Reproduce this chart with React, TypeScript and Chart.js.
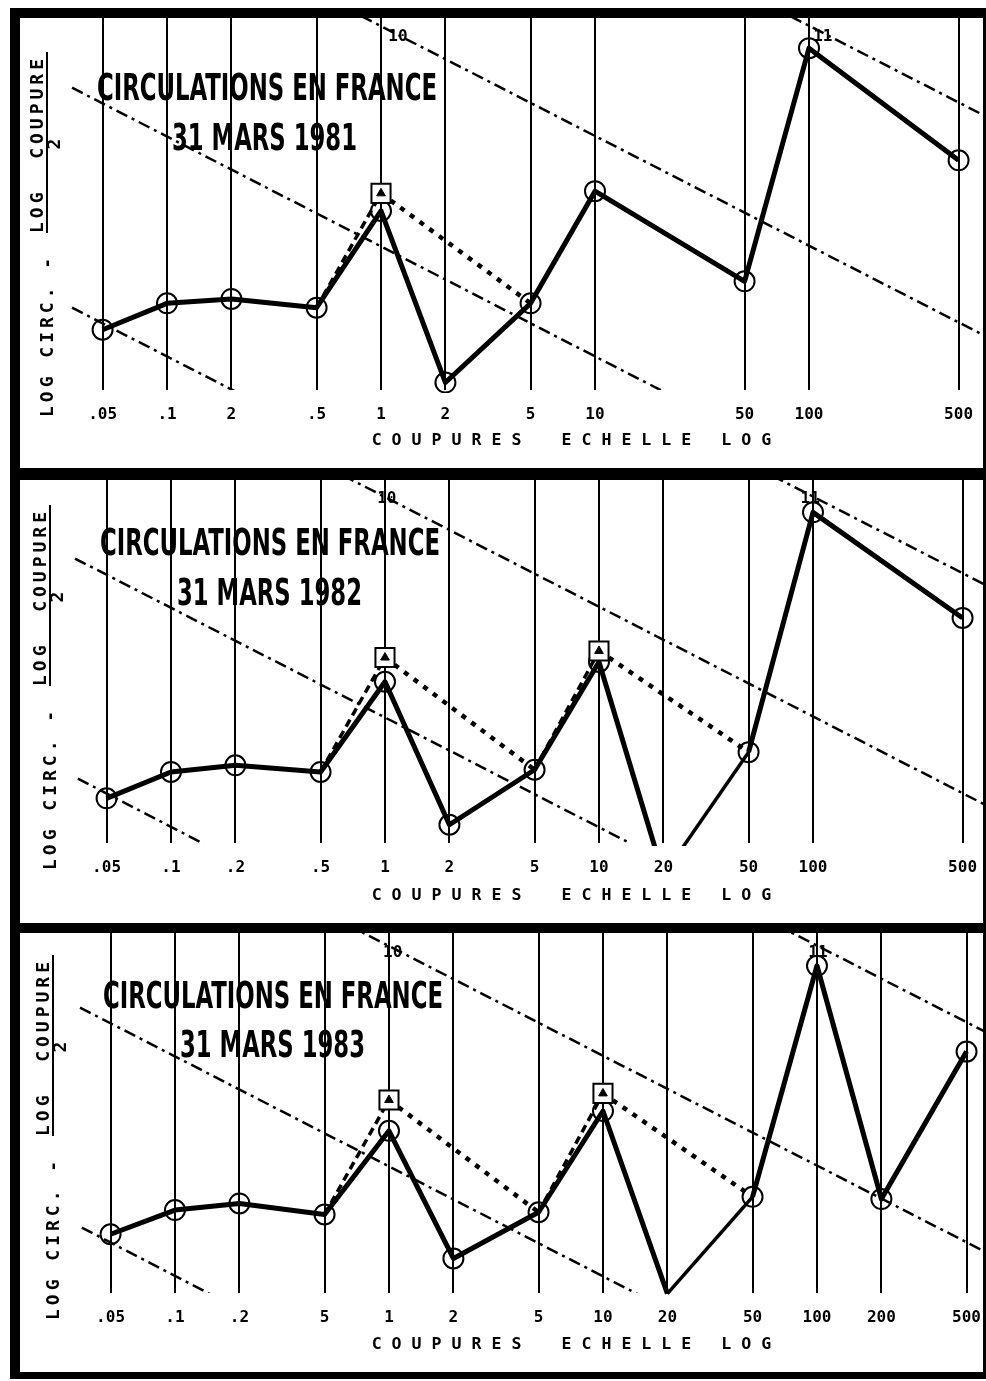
import React, { useEffect, useRef } from "react";
import { Chart, registerables } from "chart.js";

Chart.register(...registerables);

// ---------------- texts ----------------
const TITLE = "CIRCULATIONS EN FRANCE";
const DATES = ["31 MARS 1981", "31 MARS 1982", "31 MARS 1983"];
const X_TITLE = "C O U P U R E S    E C H E L L E   L O G";
const Y_TITLE_MAIN = "LOG CIRC. -";
const Y_TITLE_NUM = "LOG  COUPURE";
const Y_TITLE_DEN = "2";
const ISO_LABELS = ["10", "11"];

// ---------------- data (y = log circ. - log coupure / 2) ----------------
const DENOMS_1981 = [0.05, 0.1, 0.2, 0.5, 1, 2, 5, 10, 50, 100, 500];
const TICKS_1981 = [".05", ".1", "2", ".5", "1", "2", "5", "10", "50", "100", "500"];
const CIRC_1981 = [8.62, 8.74, 8.76, 8.72, 9.16, 8.38, 8.74, 9.25, 8.84, 9.9, 9.39];

const DENOMS_1982 = [0.05, 0.1, 0.2, 0.5, 1, 2, 5, 10, 20, 50, 100, 500];
const TICKS_1982 = [".05", ".1", ".2", ".5", "1", "2", "5", "10", "20", "50", "100", "500"];
const CIRC_1982 = [8.63, 8.75, 8.78, 8.75, 9.16, 8.51, 8.76, 9.25, 8.28, 8.84, 9.93, 9.45];

const DENOMS_1983 = [0.05, 0.1, 0.2, 0.5, 1, 2, 5, 10, 20, 50, 100, 200, 500];
const TICKS_1983 = [".05", ".1", ".2", "5", "1", "2", "5", "10", "20", "50", "100", "200", "500"];
const CIRC_1983 = [8.69, 8.8, 8.83, 8.78, 9.16, 8.58, 8.79, 9.25, 8.42, 8.86, 9.91, 8.85, 9.52];

// expected values (square markers) and the neighbours they are joined to
const EXP_X_1981 = [1];
const EXP_Y_1981 = [9.24];
const EXP_FROM_1981 = [0.5];
const EXP_TO_1981 = [5];

const EXP_X_1982 = [1, 10];
const EXP_Y_1982 = [9.27, 9.3];
const EXP_FROM_1982 = [0.5, 5];
const EXP_TO_1982 = [5, 50];

const EXP_X_1983 = [1, 10];
const EXP_Y_1983 = [9.3, 9.33];
const EXP_FROM_1983 = [0.5, 5];
const EXP_TO_1983 = [5, 50];

// iso-circulation lines (10^8, 10^9, 10^10, 10^11)
const ISO_X0_1981 = [0.036, 0.036, 0.5, 40];
const ISO_X0_1982 = [0.0367, 0.0356, 0.5, 40];
const ISO_X0_1983 = [0.0367, 0.036, 0.5, 40];
const ISO_Y0 = [8.72, 9.72, 10.15, 10.2];
const ISO_X1 = [0.25, 25, 640, 640];
const ISO_Y1 = [8.3, 8.3, 8.6, 9.6];

const ISO_LABEL_X_1981 = [1.2, 116];
const ISO_LABEL_Y_1981 = [9.95, 9.95];
const ISO_LABEL_X_1982 = [1.02, 97];
const ISO_LABEL_Y_1982 = [9.99, 9.99];
const ISO_LABEL_X_1983 = [1.04, 101];
const ISO_LABEL_Y_1983 = [9.97, 9.97];

// axis limits
const X_MIN = [0.02056, 0.0197, 0.01887];
const X_MAX = [650.3, 622.9, 596.8];
const Y_MIN = [8.346, 8.427, 8.423];
const Y_MAX = [10.037, 10.077, 10.059];

// ---------------- layout ----------------
const PANEL_TOP = [18, 480, 933];
const PANEL_H = [450, 443, 439];
const CHART_H = [372, 363, 360];
const PANEL_DX = [0, 3, 6];
const TITLE_POS = [
  { x: 77, y: 82, sx: 152, sy: 132 },
  { x: 80, y: 75, sx: 157, sy: 125 },
  { x: 83, y: 75, sx: 160, sy: 124 },
];

type Spec = {
  idx: number;
  denoms: number[];
  ticks: string[];
  circ: number[];
  expX: number[];
  expY: number[];
  expFrom: number[];
  expTo: number[];
  isoX0: number[];
  labX: number[];
  labY: number[];
};

const SPECS: Spec[] = [
  { idx: 0, denoms: DENOMS_1981, ticks: TICKS_1981, circ: CIRC_1981, expX: EXP_X_1981, expY: EXP_Y_1981, expFrom: EXP_FROM_1981, expTo: EXP_TO_1981, isoX0: ISO_X0_1981, labX: ISO_LABEL_X_1981, labY: ISO_LABEL_Y_1981 },
  { idx: 1, denoms: DENOMS_1982, ticks: TICKS_1982, circ: CIRC_1982, expX: EXP_X_1982, expY: EXP_Y_1982, expFrom: EXP_FROM_1982, expTo: EXP_TO_1982, isoX0: ISO_X0_1982, labX: ISO_LABEL_X_1982, labY: ISO_LABEL_Y_1982 },
  { idx: 2, denoms: DENOMS_1983, ticks: TICKS_1983, circ: CIRC_1983, expX: EXP_X_1983, expY: EXP_Y_1983, expFrom: EXP_FROM_1983, expTo: EXP_TO_1983, isoX0: ISO_X0_1983, labX: ISO_LABEL_X_1983, labY: ISO_LABEL_Y_1983 },
];

const MONO = '"DejaVu Sans Mono", "Liberation Mono", monospace';

function textPlugin(s: Spec) {
  return {
    id: "panelText" + s.idx,
    afterDraw(chart: any) {
      const { ctx, chartArea, scales } = chart;
      const gb = chartArea.bottom;
      const dx = PANEL_DX[s.idx];
      const tp = TITLE_POS[s.idx];
      ctx.save();
      ctx.fillStyle = "#000";
      ctx.strokeStyle = "#000";

      // titles
      ctx.font = 'bold 37px "DejaVu Sans Condensed", "DejaVu Sans", sans-serif';
      ctx.textAlign = "left";
      ctx.textBaseline = "alphabetic";
      ctx.fillText(TITLE, tp.x, tp.y, 340);
      ctx.fillText(DATES[s.idx], tp.sx, tp.sy, 185);

      // rotated y-axis label
      const rot = (text: string, x: number, y: number, align: string) => {
        ctx.save();
        ctx.translate(x, y);
        ctx.rotate(-Math.PI / 2);
        ctx.font = "bold 18px " + MONO;
        (ctx as any).letterSpacing = "4px";
        ctx.textAlign = align;
        ctx.textBaseline = "middle";
        ctx.fillText(text, 0, 0);
        ctx.restore();
      };
      rot(Y_TITLE_MAIN, 28.5 + dx, gb + 27, "left");
      rot(Y_TITLE_NUM, 18.5 + dx, gb - 157, "left");
      rot(Y_TITLE_DEN, 35 + dx, gb - 248, "center");
      ctx.lineWidth = 2;
      ctx.beginPath();
      ctx.moveTo(27 + dx, gb - 157);
      ctx.lineTo(27 + dx, gb - 338);
      ctx.stroke();

      // iso line labels
      ctx.font = "bold 16px " + MONO;
      ctx.textAlign = "center";
      ctx.textBaseline = "middle";
      s.labX.forEach((lx, i) => {
        const px = scales.x.getPixelForValue(lx);
        const py = scales.y.getPixelForValue(s.labY[i]);
        ctx.fillText(ISO_LABELS[i], px, py);
      });
      ctx.restore();
    },
  };
}

function buildConfig(s: Spec): any {
  const i = s.idx;
  const valAt = (d: number) => s.circ[s.denoms.indexOf(d)];
  const expPts = s.expX.map((x, k) => ({ x, y: s.expY[k] }));
  const datasets: any[] = [];

  datasets.push({
    data: expPts,
    showLine: false,
    pointStyle: "triangle",
    pointRadius: 5,
    pointBackgroundColor: "#000",
    pointBorderColor: "#000",
    pointBorderWidth: 1,
  });
  datasets.push({
    data: expPts,
    showLine: false,
    pointStyle: "rect",
    pointRadius: 13.5,
    pointBackgroundColor: "#fff",
    pointBorderColor: "#000",
    pointBorderWidth: 2,
  });
  datasets.push({
    data: s.denoms.map((d, k) => ({ x: d, y: s.circ[k] })),
    borderColor: "#000",
    borderWidth: 5,
    borderJoinStyle: "round",
    segment: {
      borderWidth: (c: any) => (c.p0 && c.p0.parsed && c.p0.parsed.x === 20 ? 3.5 : 5),
    },
    pointStyle: "circle",
    pointRadius: (c: any) => (c.raw && c.raw.x === 20 ? 0 : 10),
    pointBorderWidth: 2,
    pointBorderColor: "#000",
    pointBackgroundColor: "rgba(255,255,255,0)",
    clip: { left: 0, top: 0, right: 0, bottom: 3 },
  });
  s.expX.forEach((x, k) => {
    datasets.push({
      data: [
        { x: s.expFrom[k], y: valAt(s.expFrom[k]) },
        { x, y: s.expY[k] },
      ],
      borderColor: "#000",
      borderWidth: 3.5,
      borderDash: [8, 5],
      pointRadius: 0,
    });
    datasets.push({
      data: [
        { x, y: s.expY[k] },
        { x: s.expTo[k], y: valAt(s.expTo[k]) },
      ],
      borderColor: "#000",
      borderWidth: 4.5,
      borderDash: [5, 7],
      pointRadius: 0,
    });
  });
  s.isoX0.forEach((x0, k) => {
    datasets.push({
      data: [
        { x: x0, y: ISO_Y0[k] },
        { x: ISO_X1[k], y: ISO_Y1[k] },
      ],
      borderColor: "#000",
      borderWidth: 2.5,
      borderDash: [12, 5, 3, 5],
      pointRadius: 0,
    });
  });

  return {
    type: "line",
    data: { datasets },
    options: {
      animation: false,
      responsive: false,
      events: [],
      layout: { padding: 0, autoPadding: false },
      plugins: { legend: { display: false }, tooltip: { enabled: false }, title: { display: false } },
      scales: {
        x: {
          type: "logarithmic",
          min: X_MIN[i],
          max: X_MAX[i],
          bounds: "data",
          afterBuildTicks: (sc: any) => {
            sc.ticks = s.denoms.map((v) => ({ value: v }));
          },
          afterFit: (sc: any) => {
            sc.height = PANEL_H[i] - CHART_H[i];
            sc.paddingLeft = 0;
            sc.paddingRight = 0;
          },
          grid: { color: "#000", lineWidth: 2, drawTicks: false },
          border: { display: false },
          ticks: {
            autoSkip: false,
            maxRotation: 0,
            minRotation: 0,
            padding: 15,
            color: "#000",
            font: { family: MONO, size: 16, weight: "bold" },
            callback: (_v: any, idx: number) => s.ticks[idx],
          },
          title: {
            display: true,
            text: " ".repeat(14) + X_TITLE,
            color: "#000",
            font: { family: MONO, size: 16.6, weight: "bold" },
            padding: { top: 0, bottom: 17 },
          },
        },
        y: {
          type: "linear",
          display: false,
          min: Y_MIN[i],
          max: Y_MAX[i],
          bounds: "data",
        },
      },
    },
    plugins: [textPlugin(s)],
  };
}

function PanelChart({ spec }: { spec: Spec }) {
  const ref = useRef<HTMLCanvasElement | null>(null);
  useEffect(() => {
    if (!ref.current) return;
    const chart = new Chart(ref.current, buildConfig(spec));
    return () => chart.destroy();
  }, [spec]);
  const h = PANEL_H[spec.idx];
  return <canvas ref={ref} width={963} height={h} style={{ display: "block", width: 963, height: h }} />;
}

export default function App() {
  return (
    <div style={{ position: "absolute", left: 0, top: 0, width: 986, height: 1381, background: "#fff", overflow: "hidden" }}>
      <div style={{ position: "absolute", left: 10, top: 8, width: 976, height: 1371, background: "#000" }} />
      {SPECS.map((s) => (
        <div
          key={s.idx}
          style={{ position: "absolute", left: 20, top: PANEL_TOP[s.idx], width: 963, height: PANEL_H[s.idx], background: "#fff" }}
        >
          <PanelChart spec={s} />
        </div>
      ))}
    </div>
  );
}
